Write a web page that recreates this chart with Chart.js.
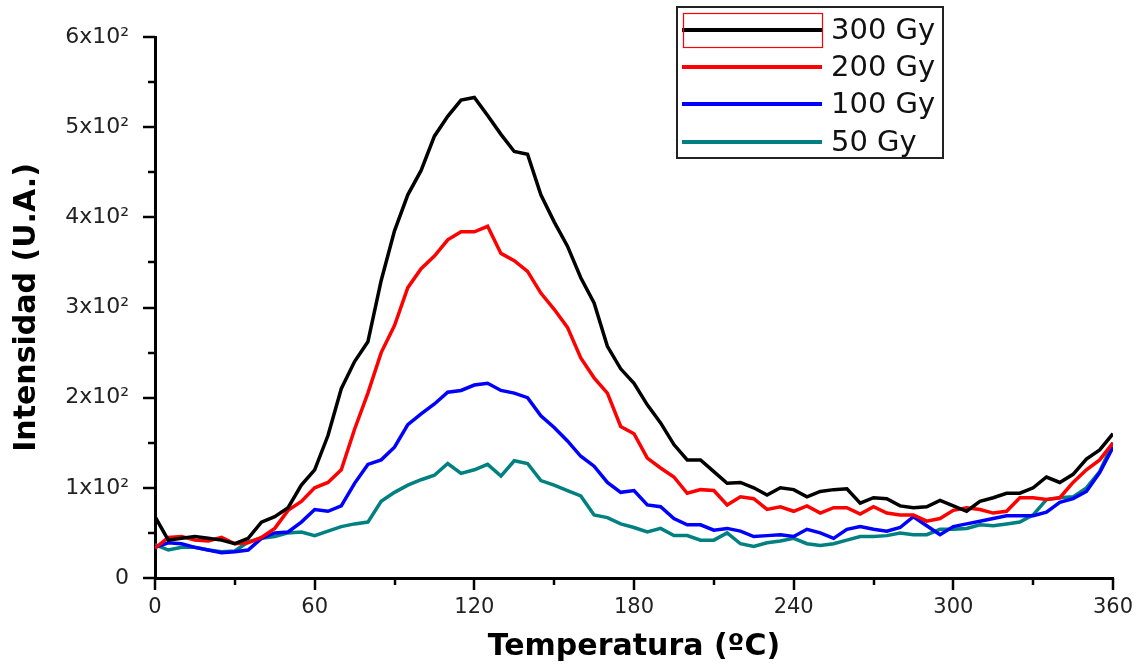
<!DOCTYPE html>
<html>
<head>
<meta charset="utf-8">
<script src="https://cdn.jsdelivr.net/npm/chart.js@4.4.1/dist/chart.umd.min.js"></script>
<style>
html,body{margin:0;padding:0;background:#fff;}
#wrap{width:1140px;height:666px;position:relative;}
</style>
</head>
<body>
<div id="wrap"><canvas id="c"></canvas></div>
<script>
const temps = [0,5,10,15,20,25,30,35,40,45,50,55,60,65,70,75,80,85,90,95,100,105,110,115,120,125,130,135,140,145,150,155,160,165,170,175,180,185,190,195,200,205,210,215,220,225,230,235,240,245,250,255,260,265,270,275,280,285,290,295,300,305,310,315,320,325,330,335,340,345,350,355,360];
const gy300 = [68,42,44,46,44,42,38,44,62,68,78,103,120,158,210,240,262,330,385,425,452,490,512,530,533,513,492,473,470,425,395,368,333,305,257,232,216,192,172,148,131,131,118,105,106,100,92,100,98,90,96,98,99,83,89,88,80,78,79,86,80,74,85,89,94,94,100,112,106,115,132,142,160];
const gy200 = [33,45,46,42,41,45,38,39,45,55,75,85,100,106,120,165,205,250,280,322,343,357,375,384,384,390,360,352,340,316,298,278,244,222,205,168,160,133,122,112,94,98,97,81,90,88,76,79,74,80,72,78,78,71,79,72,70,70,63,66,75,78,76,72,74,89,89,87,89,106,120,131,150];
const gy100 = [34,39,38,34,31,28,29,31,44,50,51,62,76,74,80,105,126,131,145,170,182,193,206,208,214,216,208,205,200,180,167,152,135,124,106,95,97,81,79,66,59,59,53,55,52,46,47,48,46,54,50,44,54,57,54,52,56,68,58,48,57,60,63,66,69,69,69,73,84,88,96,117,145];
const gy50 = [37,31,34,34,31,29,30,40,44,46,50,51,47,52,57,60,62,85,95,103,109,114,127,116,120,126,113,130,127,108,103,97,91,70,67,60,56,51,55,47,47,42,42,50,38,35,39,41,44,38,36,38,42,46,46,47,50,48,48,54,54,55,59,58,60,62,70,87,89,90,100,118,150];
const seriesLabels = ['300 Gy','200 Gy','100 Gy','50 Gy'];
const seriesColors = ['#000000','#ff0000','#0000ff','#008080'];
const yTickValues = [0,100,200,300,400,500,600];
const xTickValues = [0,60,120,180,240,300,360];

const seriesData = [gy300, gy200, gy100, gy50];
const datasets = seriesData.map((arr, i) => ({
  label: seriesLabels[i],
  data: temps.map((t, j) => ({x: t, y: arr[j]})),
  borderColor: seriesColors[i],
  backgroundColor: seriesColors[i],
  borderWidth: 3.5,
  pointRadius: 0,
  tension: 0,
  fill: false
}));

const tickPlugin = {
  id: 'ticksAndLegend',
  afterDraw(chart) {
    const ctx = chart.ctx;
    const xs = chart.scales.x, ys = chart.scales.y;
    const a = chart.chartArea;
    ctx.save();
    ctx.strokeStyle = '#000';
    ctx.lineWidth = 2.5;
    ctx.lineCap = 'butt';
    for (let v = 0; v <= 360; v += 30) {
      const px = Math.round(xs.getPixelForValue(v));
      const len = (v % 60 === 0) ? 12 : 7;
      ctx.beginPath(); ctx.moveTo(px, a.bottom); ctx.lineTo(px, a.bottom + len); ctx.stroke();
    }
    for (let v = 0; v <= 600; v += 50) {
      const py = Math.round(ys.getPixelForValue(v));
      const len = (v % 100 === 0) ? 12 : 7;
      ctx.beginPath(); ctx.moveTo(a.left - len, py); ctx.lineTo(a.left, py); ctx.stroke();
    }
    // legend box
    const bx = 677, by = 7, bw = 266, bh = 151;
    ctx.fillStyle = '#fff';
    ctx.fillRect(bx, by, bw, bh);
    ctx.lineWidth = 2;
    ctx.strokeStyle = '#222';
    ctx.strokeRect(bx, by, bw, bh);
    const rowY = [30, 67, 104, 142];
    ctx.font = '29px "DejaVu Sans", Verdana, sans-serif';
    ctx.textBaseline = 'middle';
    ctx.textAlign = 'left';
    chart.data.datasets.forEach((ds, i) => {
      ctx.strokeStyle = ds.borderColor;
      ctx.lineWidth = 4;
      ctx.beginPath(); ctx.moveTo(682, rowY[i]); ctx.lineTo(822, rowY[i]); ctx.stroke();
      ctx.fillStyle = '#111';
      ctx.fillText(ds.label, 831, rowY[i] + 1);
    });
    ctx.strokeStyle = '#ff0000';
    ctx.lineWidth = 1.2;
    ctx.strokeRect(683.5, 13.5, 139, 34);
    ctx.restore();
  }
};

new Chart(document.getElementById('c'), {
  type: 'line',
  data: { datasets },
  options: {
    responsive: true,
    maintainAspectRatio: false,
    animation: false,
    devicePixelRatio: 1,
    layout: { padding: { left: 0, right: 27, top: 37, bottom: 0 } },
    plugins: { legend: { display: false }, tooltip: { enabled: false } },
    scales: {
      x: {
        type: 'linear',
        min: 0, max: 360,
        afterFit(s) { s.height = 88; s.paddingRight = 0; s.paddingLeft = 0; },
        afterBuildTicks(s) { s.ticks = xTickValues.map(v => ({value: v})); },
        grid: { display: false, drawTicks: false, tickLength: 0 },
        border: { display: true, color: '#000', width: 3 },
        ticks: {
          padding: 17,
          color: '#222',
          font: { family: '"DejaVu Sans", Verdana, sans-serif', size: 21 },
          maxRotation: 0,
          callback: v => String(v)
        },
        title: {
          display: true,
          text: 'Temperatura (ºC)',
          color: '#000',
          font: { family: '"DejaVu Sans", Verdana, sans-serif', size: 30, weight: 'bold' },
          padding: { top: 0, bottom: 1 }
        }
      },
      y: {
        type: 'linear',
        min: 0, max: 600,
        afterFit(s) { s.width = 155; s.paddingTop = 0; s.paddingBottom = 0; },
        afterBuildTicks(s) { s.ticks = yTickValues.map(v => ({value: v})); },
        grid: { display: false, drawTicks: false, tickLength: 0 },
        border: { display: true, color: '#000', width: 3 },
        ticks: {
          padding: 26,
          color: '#222',
          font: { family: '"DejaVu Sans", Verdana, sans-serif', size: 22 },
          callback: v => v === 0 ? '0' : (v / 100) + 'x10²'
        },
        title: {
          display: true,
          text: 'Intensidad (U.A.)',
          color: '#000',
          font: { family: '"DejaVu Sans", Verdana, sans-serif', size: 30, weight: 'bold' },
          padding: { top: 9, bottom: 0 }
        }
      }
    }
  },
  plugins: [tickPlugin]
});
</script>
</body>
</html>
